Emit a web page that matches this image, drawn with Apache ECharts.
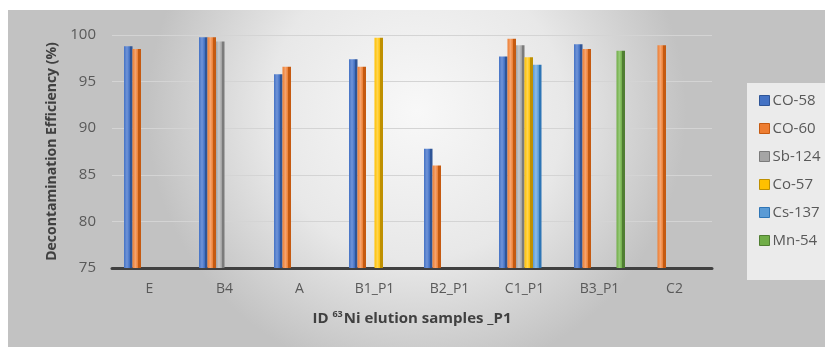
<!DOCTYPE html>
<html><head><meta charset="utf-8">
<script src="https://cdn.jsdelivr.net/npm/echarts@6/dist/echarts.min.js"></script>
<style>html,body{margin:0;padding:0;background:#fff}#c{width:825px;height:347px}</style>
</head><body><div id="c"></div>
<script>
const categories = ['E','B4','A','B1_P1','B2_P1','C1_P1','B3_P1','C2'];
const seriesNames = ['CO-58','CO-60','Sb-124','Co-57','Cs-137','Mn-54'];
const co58  = [98.8, 99.75, 95.8, 97.4, 87.8, 97.7, 99.0, null];
const co60  = [98.5, 99.75, 96.6, 96.6, 86.0, 99.6, 98.5, 98.9];
const sb124 = [null, 99.3, null, null, null, 98.9, null, null];
const co57  = [null, null, null, 99.7, null, 97.6, null, null];
const cs137 = [null, null, null, null, null, 96.8, null, null];
const mn54  = [null, null, null, null, null, null, 98.3, null];
const yTicks = [75, 80, 85, 90, 95, 100];

const values = [co58, co60, sb124, co57, cs137, mn54];
const colors = ['#4472C4','#ED7D31','#A5A5A5','#FFC000','#5B9BD5','#70AD47'];
const darks  = ['#2F5597','#C55A11','#7B7B7B','#BF9000','#2E75B6','#507E32'];
const lights = ['#7094D8','#F5A46E','#C8C8C8','#FFD54F','#8DBCE8','#97C978'];

function grad(i){
  return new echarts.graphic.LinearGradient(0,0,1,0,[
    {offset:0,color:colors[i]},{offset:0.35,color:lights[i]},{offset:0.65,color:colors[i]},
    {offset:0.67,color:darks[i]},{offset:1,color:darks[i]}]);
}

const chart = echarts.init(document.getElementById('c'), null, {renderer:'canvas'});
chart.setOption({
  animation:false,
  textStyle:{fontFamily:'"Open Sans", "Liberation Sans", sans-serif'},
  graphic:[
    {type:'rect', z:-10, silent:true, shape:{x:8,y:10,width:817,height:337},
     style:{fill:new echarts.graphic.RadialGradient(0.5,0.3,0.8,[
       {offset:0,color:'#f8f8f8'},{offset:0.55,color:'#e8e8e8'},{offset:1,color:'#c2c2c2'}])}},
    {type:'rect', z:-9, silent:true, shape:{x:747,y:83,width:78,height:197},
     style:{fill:'rgba(242,242,242,0.85)'}}
  ],
  grid:{left:112, right:113, top:35, bottom:79},
  legend:{
    orient:'vertical', left:754, top:88, itemGap:13, itemWidth:10, itemHeight:10,
    icon:'rect',
    data:seriesNames.map((n,i)=>({name:n, itemStyle:{color:colors[i], borderColor:darks[i], borderWidth:1}})),
    textStyle:{color:'#595959', fontSize:15, padding:[0,0,0,-2]}
  },
  xAxis:{
    type:'category', data:categories,
    axisLine:{lineStyle:{color:'#404040', width:3}},
    axisTick:{show:false},
    axisLabel:{color:'#595959', fontSize:14, margin:14},
    nameLocation:'middle', nameGap:42,
    name:'{b|ID }{s|63}{b|Ni elution samples _P1}',
    nameTextStyle:{rich:{
      b:{fontWeight:'bold', fontSize:15, color:'#404040', fontFamily:'"Open Sans", sans-serif'},
      s:{fontWeight:'bold', fontSize:9, color:'#404040', verticalAlign:'top', padding:[0,1,9,0]}
    }}
  },
  yAxis:{
    type:'value', min:75, max:100, interval:5,
    axisLine:{show:false}, axisTick:{show:false},
    axisLabel:{color:'#595959', fontSize:15, margin:16,
      formatter:v=> yTicks.includes(v) ? String(v) : ''},
    splitLine:{lineStyle:{color:'#d4d4d4', width:1}},
    name:'Decontamination Efficiency (%)', nameLocation:'middle', nameGap:52,
    nameTextStyle:{fontWeight:'bold', fontSize:14, color:'#404040'}
  },
  series: seriesNames.map((n,i)=>({
    name:n, type:'bar', data:values[i], barGap:'0%', barCategoryGap:'32%',
    itemStyle:{color:grad(i)}
  }))
});
</script></body></html>
